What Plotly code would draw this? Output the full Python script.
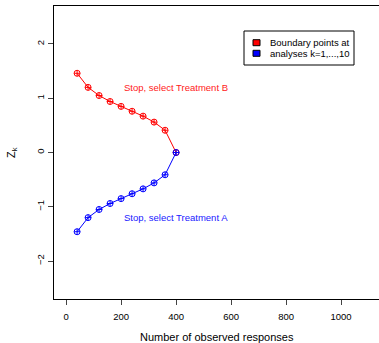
import plotly.graph_objects as go

n_obs = [40, 80, 120, 160, 200, 240, 280, 320, 360, 400]
upper_z = [1.46, 1.20, 1.05, 0.94, 0.85, 0.76, 0.67, 0.56, 0.41, 0.0]
lower_z = [-1.46, -1.20, -1.05, -0.94, -0.85, -0.76, -0.67, -0.56, -0.41, 0.0]
x_ticks = [0, 200, 400, 600, 800, 1000]
y_ticks = [-2, -1, 0, 1, 2]

FONT = "Liberation Sans, Arial, sans-serif"
L, T, W, H = 54, 6, 325, 293


def px(xp):
    return (xp - L) / W


def py(yp):
    return 1 - (yp - T) / H


fig = go.Figure()
fig.add_trace(go.Scatter(x=n_obs, y=upper_z, mode="lines+markers",
                         line=dict(color="#ff0000", width=1),
                         marker=dict(symbol="circle-cross-open", size=6, color="#ff0000", line=dict(width=1)),
                         showlegend=False))
fig.add_trace(go.Scatter(x=n_obs, y=lower_z, mode="lines+markers",
                         line=dict(color="#0000ff", width=1),
                         marker=dict(symbol="circle-cross-open", size=6, color="#0000ff", line=dict(width=1)),
                         showlegend=False))

fig.add_annotation(x=400, y=1.2, text="Stop, select Treatment B", showarrow=False,
                   font=dict(family=FONT, size=9.5, color="#ff2020"))
fig.add_annotation(x=400, y=-1.2, text="Stop, select Treatment A", showarrow=False,
                   font=dict(family=FONT, size=9.5, color="#2020ff"))

# legend box
fig.add_shape(type="rect", xref="paper", yref="paper",
              x0=px(244), x1=px(354), y0=py(65), y1=py(31),
              line=dict(color="black", width=1), fillcolor="white")
for yc, col in [(42.7, "#ff0000"), (53.3, "#0000ff")]:
    fig.add_shape(type="rect", xref="paper", yref="paper",
                  x0=px(253), x1=px(260), y0=py(yc + 3), y1=py(yc - 3),
                  line=dict(color="black", width=1), fillcolor=col)
for yc, txt in [(42.7, "Boundary points at"), (53.3, "analyses k=1,...,10")]:
    fig.add_annotation(xref="paper", yref="paper", x=px(268), y=py(yc),
                       xanchor="left", yanchor="middle", text=txt, showarrow=False,
                       font=dict(family=FONT, size=9.5, color="black"))

# axis titles
fig.add_annotation(xref="paper", yref="paper", x=px(217), y=py(337),
                   xanchor="center", yanchor="middle", text="Number of observed responses",
                   showarrow=False, font=dict(family=FONT, size=11, color="black"))
fig.add_annotation(xref="paper", yref="paper", x=px(12), y=py(153),
                   xanchor="center", yanchor="middle", text="Z<sub>k</sub>", textangle=-90,
                   showarrow=False, font=dict(family=FONT, size=11, color="black"))

fig.update_layout(
    width=379, height=343,
    margin=dict(l=L, r=0, t=T, b=343 - T - H, autoexpand=False),
    plot_bgcolor="white", paper_bgcolor="white",
    font=dict(family=FONT, size=9.5, color="black"),
    xaxis=dict(range=[-44, 1138], tickvals=x_ticks, ticks="outside", ticklen=5,
               ticklabelstandoff=4,
               showline=True, mirror=True, linecolor="black", linewidth=1,
               showgrid=False, zeroline=False, automargin=False),
    yaxis=dict(range=[-2.7, 2.7], tickvals=y_ticks, ticks="outside", ticklen=5,
               tickangle=-90, showline=True, linecolor="black", linewidth=1,
               showgrid=False, zeroline=False, automargin=False),
)

fig.write_html("out.html", config={"displayModeBar": False},
               post_script="document.body.style.margin='0';")
